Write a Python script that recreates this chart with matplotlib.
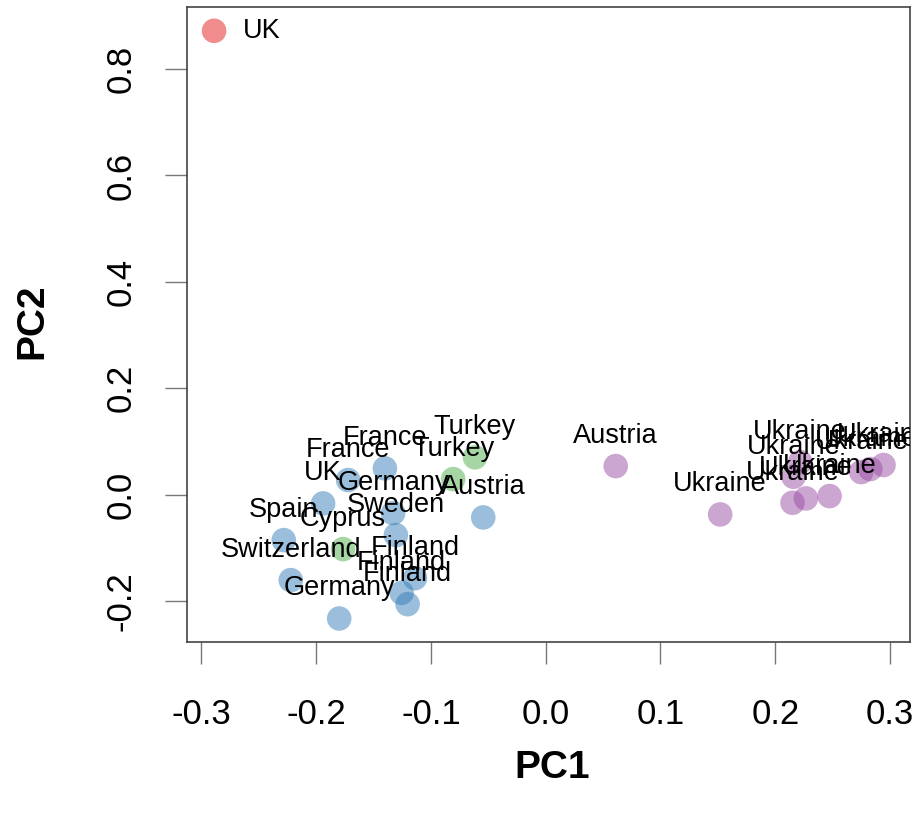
import matplotlib
matplotlib.use("Agg")
import matplotlib.pyplot as plt
from matplotlib.transforms import offset_copy

plt.rcParams['font.family'] = ['Liberation Sans', 'DejaVu Sans']

# PCA scores per sample
labels = ["UK",
          "France", "France", "UK", "Germany", "Austria", "Sweden", "Spain",
          "Switzerland", "Finland", "Finland", "Finland", "Germany",
          "Turkey", "Turkey", "Cyprus",
          "Austria", "Ukraine", "Ukraine", "Ukraine", "Ukraine", "Ukraine",
          "Ukraine", "Ukraine", "Ukraine", "Ukraine"]
groups = ["red",
          "blue", "blue", "blue", "blue", "blue", "blue", "blue",
          "blue", "blue", "blue", "blue", "blue",
          "green", "green", "green",
          "purple", "purple", "purple", "purple", "purple", "purple",
          "purple", "purple", "purple", "purple"]
pc1 = [-0.2889,
       -0.1721, -0.1401, -0.1939, -0.1329, -0.0544, -0.1305, -0.2282,
       -0.2221, -0.1139, -0.1255, -0.1203, -0.1799,
       -0.0616, -0.0806, -0.1765,
       0.0610, 0.1520, 0.2150, 0.2267, 0.2473, 0.2159,
       0.2217, 0.2749, 0.2828, 0.2943]
pc2 = [0.8719,
       0.0275, 0.0495, -0.0164, -0.0346, -0.0427, -0.0760, -0.0854,
       -0.1606, -0.1569, -0.1845, -0.2058, -0.2327,
       0.0702, 0.0293, -0.1023,
       0.0538, -0.0371, -0.0152, -0.0070, -0.0026, 0.0337,
       0.0613, 0.0425, 0.0482, 0.0557]

xticks = [-0.3, -0.2, -0.1, 0.0, 0.1, 0.2, 0.3]
yticks = [-0.2, 0.0, 0.2, 0.4, 0.6, 0.8]

palette = {"red": (0.894, 0.102, 0.110, 0.5),
           "blue": (0.216, 0.494, 0.722, 0.5),
           "green": (0.302, 0.686, 0.290, 0.5),
           "purple": (0.596, 0.306, 0.639, 0.5)}

W, H = 919, 816
fig = plt.figure(figsize=(W / 100, H / 100), dpi=100)
left, right, top, bottom = 187.3, 910.3, 7.3, 642.0
ax = fig.add_axes([left / W, 1 - bottom / H, (right - left) / W, (bottom - top) / H])

# R-style 4% padding around the data range
xr = max(pc1) - min(pc1)
yr = max(pc2) - min(pc2)
ax.set_xlim(min(pc1) - 0.04 * xr, max(pc1) + 0.04 * xr)
ax.set_ylim(min(pc2) - 0.04 * yr, max(pc2) + 0.04 * yr)

ax.scatter(pc1, pc2, s=313, c=[palette[g] for g in groups], edgecolors='none', zorder=2)

above = offset_copy(ax.transData, fig=fig, x=0, y=30, units='dots')
beside = offset_copy(ax.transData, fig=fig, x=29, y=0, units='dots')
for i, (x, y, s) in enumerate(zip(pc1, pc2, labels)):
    if i == 0:
        ax.text(x, y, s, transform=beside, ha='left', va='center',
                fontsize=19.5, color='black', clip_on=True, zorder=3)
    else:
        ax.text(x, y, s, transform=above, ha='center', va='center',
                fontsize=19.5, color='black', clip_on=True, zorder=3)

for sp in ax.spines.values():
    sp.set_color('#444444')
    sp.set_linewidth(1.2)

ax.set_xticks(xticks)
ax.set_xticklabels([f"{t:.1f}" for t in xticks])
ax.set_yticks(yticks)
ax.set_yticklabels([f"{t:.1f}" for t in yticks], rotation=90, va='center')
ax.tick_params(axis='both', direction='out', length=16, width=1.0, color='#777777',
               labelsize=25, labelcolor='black')
ax.tick_params(axis='x', pad=24)
ax.tick_params(axis='y', pad=20)

ax.set_xlabel("PC1", fontsize=28, fontweight='bold')
ax.set_ylabel("PC2", fontsize=28, fontweight='bold')
ax.xaxis.set_label_coords((552 - left) / (right - left), (bottom - 768) / (bottom - top))
ax.xaxis.label.set_va('center')
ax.yaxis.set_label_coords((32 - left) / (right - left), (bottom - 321) / (bottom - top))
ax.yaxis.label.set_va('center')

fig.savefig("out.png", dpi=100)
